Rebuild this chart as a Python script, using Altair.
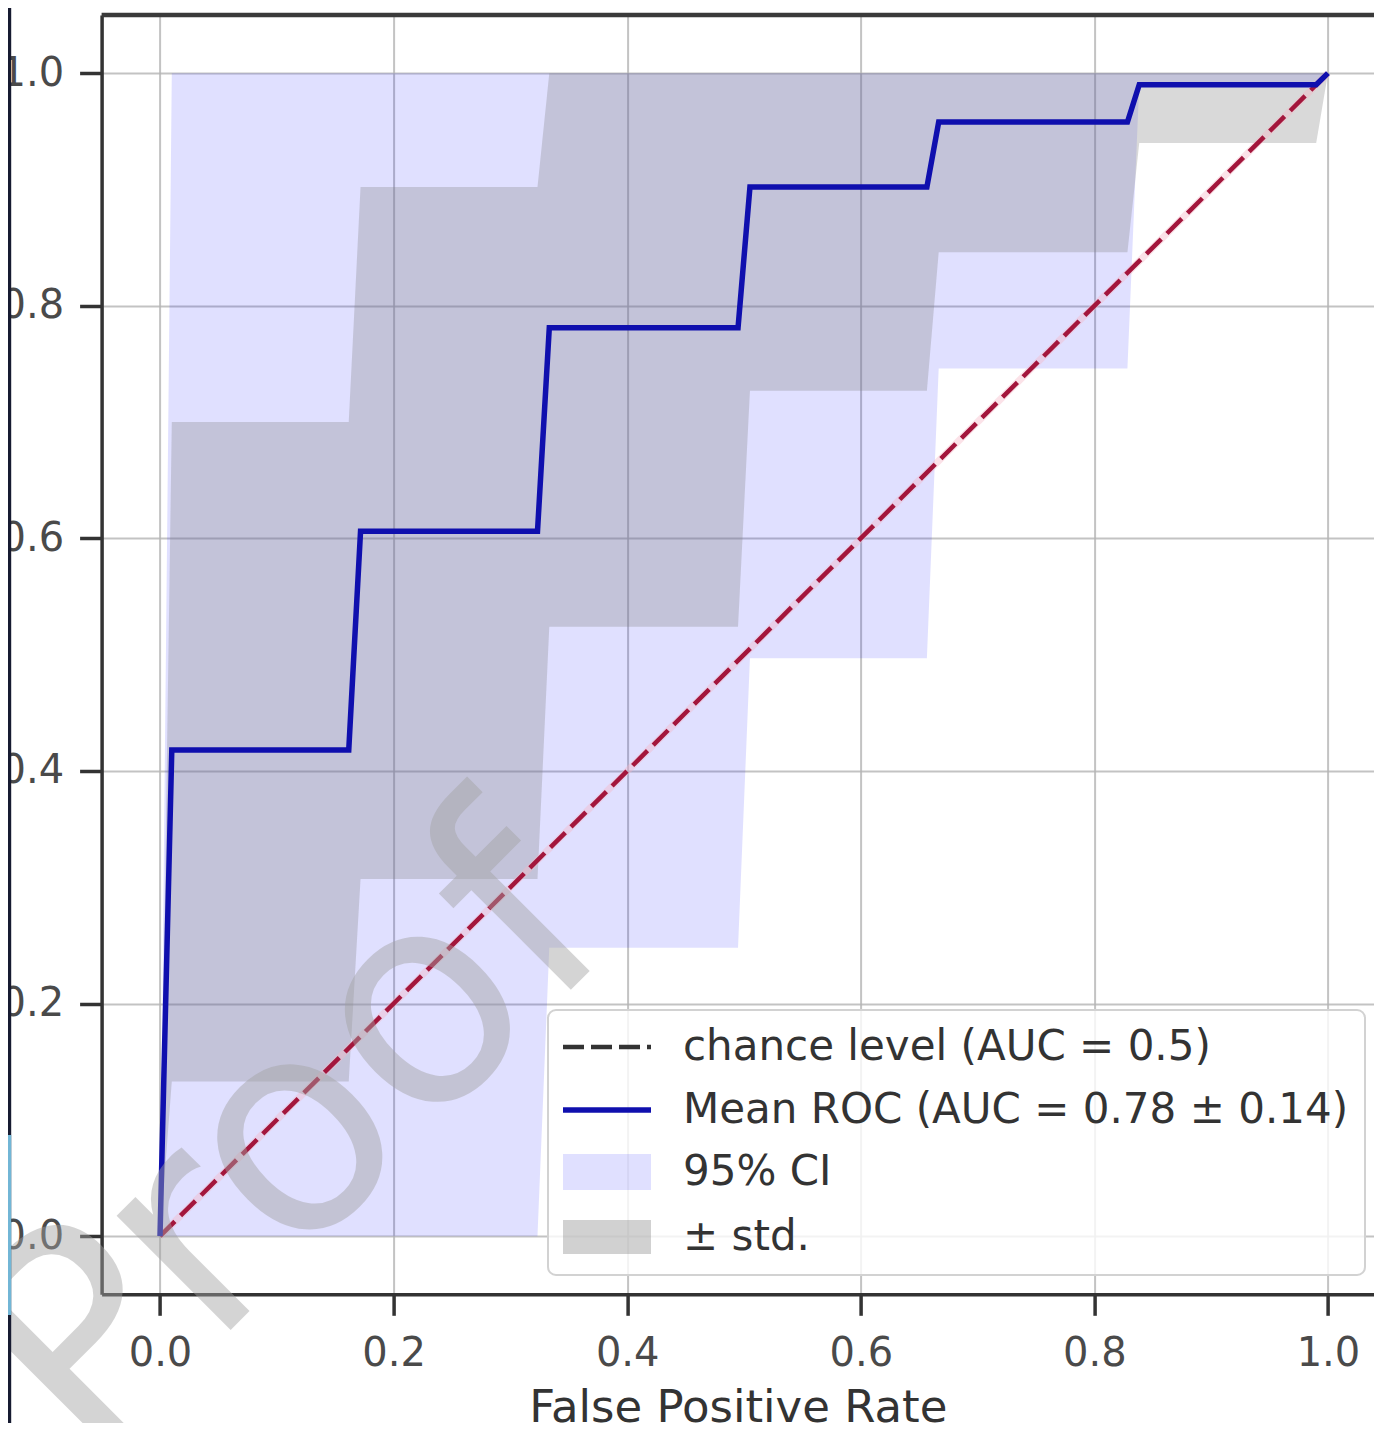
import altair as alt
import pandas as pd

# ---------------- data ----------------
fpr = [0.0, 0.0101, 0.1616, 0.1717, 0.3232, 0.3333, 0.4949, 0.5051,
       0.6566, 0.6667, 0.8283, 0.8384, 0.9899, 1.0]
mean_tpr = [0.0, 0.418, 0.418, 0.606, 0.606, 0.781, 0.781, 0.902,
            0.902, 0.958, 0.958, 0.990, 0.990, 1.0]
std_lower = [0.0, 0.133, 0.133, 0.307, 0.307, 0.524, 0.524, 0.727,
             0.727, 0.846, 0.846, 0.940, 0.940, 1.0]
std_upper = [0.0, 0.700, 0.700, 0.902, 0.902, 1.0, 1.0, 1.0,
             1.0, 1.0, 1.0, 1.0, 1.0, 1.0]
ci_lower = [0.0, 0.0, 0.0, 0.0, 0.0, 0.248, 0.248, 0.497,
            0.497, 0.746, 0.746, 0.990, 0.990, 1.0]
ci_upper = [0.0, 1.0, 1.0, 1.0, 1.0, 1.0, 1.0, 1.0,
            1.0, 1.0, 1.0, 1.0, 1.0, 1.0]
chance_x = [0.0, 1.0]
chance_y = [0.0, 1.0]
tick_values = [0.0, 0.2, 0.4, 0.6, 0.8, 1.0]
legend_labels = ["chance level (AUC = 0.5)", "Mean ROC (AUC = 0.78 \u00b1 0.14)",
                 "95% CI", "\u00b1 std."]
x_title = "False Positive Rate"
watermark_text = "Proof"

# ---------------- layout ----------------
W = 1272.4
H = 1279.3
FONT = "DejaVu Sans"
BLUE = "#0f0fae"
CI_COLOR = "#0000ff"
CI_OP = 0.12
STD_COLOR = "#808080"
STD_OP = 0.30

df = pd.DataFrame({
    "idx": list(range(len(fpr))),
    "fpr": fpr, "mean": mean_tpr,
    "std_lo": std_lower, "std_hi": std_upper,
    "ci_lo": ci_lower, "ci_hi": ci_upper,
})
chance_df = pd.DataFrame({"fpr": chance_x, "tpr": chance_y})

xscale = alt.Scale(domain=[-0.05, 1.0394], nice=False, zero=False)
yscale = alt.Scale(domain=[-0.05, 1.05], nice=False, zero=False)

x_axis = alt.Axis(values=tick_values, format=".1f", title=x_title,
                  labelFont=FONT, labelFontSize=40, labelColor="#4a4a4a",
                  labelPadding=18, labelFlush=False, labelOverlap=False,
                  tickSize=21, tickWidth=3.5, tickColor="#333333",
                  domainColor="#333333", domainWidth=3.5,
                  grid=True, gridColor="#b4b4b4", gridWidth=2, gridOpacity=0.8,
                  titleFont=FONT, titleFontSize=45, titleFontWeight="normal",
                  titleColor="#333333", titlePadding=12, zindex=0)
y_axis = alt.Axis(values=tick_values, format=".1f", title="",
                  labelFont=FONT, labelFontSize=40, labelColor="#4a4a4a",
                  labelPadding=16, labelFlush=False, labelOverlap=False,
                  tickSize=22, tickWidth=3.5, tickColor="#333333",
                  domainColor="#333333", domainWidth=3.5,
                  grid=True, gridColor="#b4b4b4", gridWidth=2, gridOpacity=0.8,
                  zindex=0)


def X(field):
    return alt.X(field, scale=xscale, axis=x_axis)


def Y(field):
    return alt.Y(field, scale=yscale, axis=y_axis)


base = alt.Chart(df)

ci_area = base.mark_area(color=CI_COLOR, opacity=CI_OP, interpolate="linear").encode(
    x=X("fpr:Q"), y=Y("ci_lo:Q"), y2="ci_hi:Q",
)
std_area = base.mark_area(color=STD_COLOR, opacity=STD_OP, interpolate="linear").encode(
    x=X("fpr:Q"), y=Y("std_lo:Q"), y2="std_hi:Q",
)
chance_halo = alt.Chart(chance_df).mark_line(color="#f4b6c6", strokeWidth=7, opacity=0.4).encode(
    x=X("fpr:Q"), y=Y("tpr:Q"),
)
chance_line = alt.Chart(chance_df).mark_line(color="#a3163c", strokeWidth=4.5,
                                             strokeDash=[21, 8]).encode(
    x=X("fpr:Q"), y=Y("tpr:Q"),
)
mean_line = base.mark_line(color=BLUE, strokeWidth=5.5).encode(
    x=X("fpr:Q"), y=Y("mean:Q"), order="idx:Q",
)

one = alt.Data(values=[{}])

top_spine = alt.Chart(one).mark_rule(color="#3a3a3a", strokeWidth=4.5).encode(
    x=alt.value(0), x2=alt.value(W), y=alt.value(0))

# legend (decoration, placed in pixels)
LX0, LX1 = 446.4, 1263.4
legend_box = alt.Chart(one).mark_rect(fill="white", fillOpacity=0.8, stroke="#d2d2d2",
                                      strokeWidth=2, cornerRadius=8).encode(
    x=alt.value(LX0), x2=alt.value(LX1), y=alt.value(995), y2=alt.value(1260))
row_y = [1032, 1095, 1157, 1222]
hx0, hx1 = 461.4, 549.4
leg_dash = alt.Chart(one).mark_rule(color="#333333", strokeWidth=4.5, strokeDash=[21, 7]).encode(
    x=alt.value(hx0), x2=alt.value(hx1), y=alt.value(row_y[0]))
leg_line = alt.Chart(one).mark_rule(color=BLUE, strokeWidth=5.5).encode(
    x=alt.value(hx0), x2=alt.value(hx1), y=alt.value(row_y[1]))
leg_ci = alt.Chart(one).mark_rect(color=CI_COLOR, opacity=CI_OP).encode(
    x=alt.value(hx0), x2=alt.value(hx1), y=alt.value(row_y[2] - 18), y2=alt.value(row_y[2] + 18))
leg_std = alt.Chart(one).mark_rect(color=STD_COLOR, opacity=0.36).encode(
    x=alt.value(hx0), x2=alt.value(hx1), y=alt.value(row_y[3] - 17), y2=alt.value(row_y[3] + 17))
leg_texts = [
    alt.Chart(one).mark_text(text=lab, font=FONT, fontSize=42, color="#333333",
                             align="left", baseline="middle").encode(
        x=alt.value(581.4), y=alt.value(yy))
    for lab, yy in zip(legend_labels, row_y)
]

# watermark over everything
wm = alt.Chart(one).mark_text(text=watermark_text, font=FONT, fontSize=295, angle=315,
                              color="#a2a2a2", opacity=0.45, align="center",
                              baseline="alphabetic").encode(
    x=alt.value(254), y=alt.value(1190))

# dark slide edge at far left
strip_dark = alt.Chart(one).mark_rect(color="#171b31").encode(
    x=alt.value(-93.6), x2=alt.value(-90.4), y=alt.value(-7), y2=alt.value(1408))
strip_light = alt.Chart(one).mark_rect(color="#72b6d6").encode(
    x=alt.value(-93.6), x2=alt.value(-90.4), y=alt.value(1120), y2=alt.value(1300))

chart = alt.layer(
    ci_area, std_area, chance_halo, chance_line, mean_line, top_spine,
    legend_box, leg_dash, leg_line, leg_ci, leg_std, *leg_texts, wm,
    strip_dark, strip_light,
).properties(
    width=W, height=H,
    autosize=alt.AutoSizeParams(type="none"),
    padding={"left": 93.6, "top": 7, "right": 0, "bottom": 128.7},
    background="white",
).configure_view(strokeOpacity=0)

chart.save("out.html", embed_options={"renderer": "svg", "actions": False})
